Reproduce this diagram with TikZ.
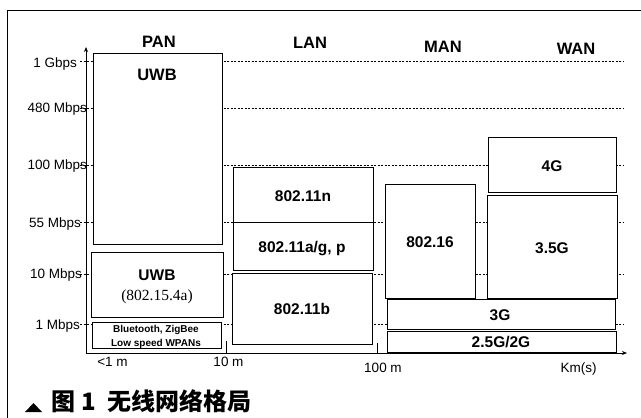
\documentclass[tikz,border=0pt]{standalone}
\usepackage{fontspec}
\setmainfont{Liberation Sans}
\newfontfamily\seriffont{Liberation Serif}
\newfontfamily\cjkfont{Noto Sans CJK SC}
\usetikzlibrary{arrows.meta}
\begin{document}
\begin{tikzpicture}[x=1pt,y=-1pt,
  frame/.style={line width=0.8pt},
  gridline/.style={line width=0.7pt, dash pattern=on 2pt off 1.5pt},
  axisline/.style={line width=1pt},
  boxshape/.style={draw, fill=white, line width=1pt},
  head/.style={font=\fontsize{16.5}{18}\selectfont\bfseries, inner sep=0pt, anchor=base},
  blabel/.style={font=\fontsize{15.5}{17}\selectfont\bfseries, inner sep=0pt, anchor=base},
  ylabel/.style={font=\fontsize{13.5}{15}\selectfont, inner sep=0pt, anchor=base east},
  xlabel/.style={font=\fontsize{13.5}{15}\selectfont, inner sep=0pt, anchor=base},
  small/.style={font=\fontsize{10}{11}\selectfont\bfseries, inner sep=0pt, anchor=base}
]
\useasboundingbox (0,0) rectangle (641,418);

% frame
\draw[frame] (641,10) -- (7,10) -- (7,418);

% dashed rate levels
\foreach \yy in {61,108,165,222,274,324}
  \draw[gridline] (80,\yy) -- (623,\yy);

% axes
\coordinate (o) at (86,353);
\coordinate (ytop) at (86,47);
\coordinate (xend) at (627,353);
\draw[axisline,-{Stealth[length=5pt,width=4pt]}] (o) -- (ytop);
\draw[axisline,-{Stealth[length=5pt,width=4pt]}] (o) -- (xend);
\coordinate (t10a) at (226,341); \coordinate (t10b) at (226,353);
\coordinate (t100a) at (377,343); \coordinate (t100b) at (377,353);
\draw[axisline] (t10a) -- (t10b);
\draw[axisline] (t100a) -- (t100b);

% boxes
\draw[boxshape] (93,53) rectangle (222,244);
\draw[boxshape] (91,252) rectangle (223,317);
\draw[boxshape] (92,322) rectangle (221,348);
\draw[boxshape] (233,167) rectangle (373,222);
\draw[boxshape] (233,222) rectangle (373,270);
\draw[boxshape] (232,273) rectangle (372,344);
\draw[boxshape] (385,184) rectangle (475,298);
\draw[boxshape] (488,137) rectangle (616,192);
\draw[boxshape] (487,195) rectangle (617,298);
\draw[boxshape] (387,299) rectangle (615,329);
\draw[boxshape] (387,331) rectangle (616,352);

% column headers
\node[head] (pan) at (159,47) {PAN};
\node[head] (lan) at (310,48) {LAN};
\node[head] (man) at (443,52) {MAN};
\node[head] (wan) at (576,54) {WAN};

% y labels
\node[ylabel] (g1) at (77,67) {1 Gbps};
\node[ylabel] (m480) at (87,112) {480 Mbps};
\node[ylabel] (m100) at (87,169) {100 Mbps};
\node[ylabel] (m55) at (81,227) {55 Mbps};
\node[ylabel] (m10) at (82,278) {10 Mbps};
\node[ylabel] (m1) at (80,329) {1 Mbps};

% x labels
\node[xlabel] (x1) at (112.5,366) {<1 m};
\node[xlabel] (x10) at (228.5,366) {10 m};
\node[xlabel] (x100) at (383,372) {100 m};
\node[xlabel] (xkm) at (578.5,372) {Km(s)};

% box labels
\node[head] (uwb1) at (157,80) {UWB};
\node[blabel] (uwb2) at (157,280) {UWB};
\node[font=\fontsize{15.5}{17}\selectfont\seriffont, inner sep=0pt, anchor=base] (uwb2b) at (157,300) {(802.15.4a)};
\node[small] (bt1) at (156,332) {Bluetooth, ZigBee};
\node[small] (bt2) at (156,346) {Low speed WPANs};
\node[blabel] (n) at (303,201) {802.11n};
\node[blabel] (ag) at (302,252) {802.11a/g, p};
\node[blabel] (b) at (302,314) {802.11b};
\node[blabel] (wimax) at (430,247) {802.16};
\node[blabel] (g4) at (552,171) {4G};
\node[blabel] (g35) at (552,253) {3.5G};
\node[blabel] (g3) at (500,320) {3G};
\node[blabel] (g2) at (501,347) {2.5G/2G};

% caption
\fill (25,412) -- (42,412) -- (33.5,403) -- cycle;
\node[font=\fontsize{24}{26}\selectfont\cjkfont\bfseries, inner sep=0pt, anchor=base west] (cap) at (51,410) {图\hspace{6pt}1\hspace{12pt}无线网络格局};
\end{tikzpicture}
\end{document}
